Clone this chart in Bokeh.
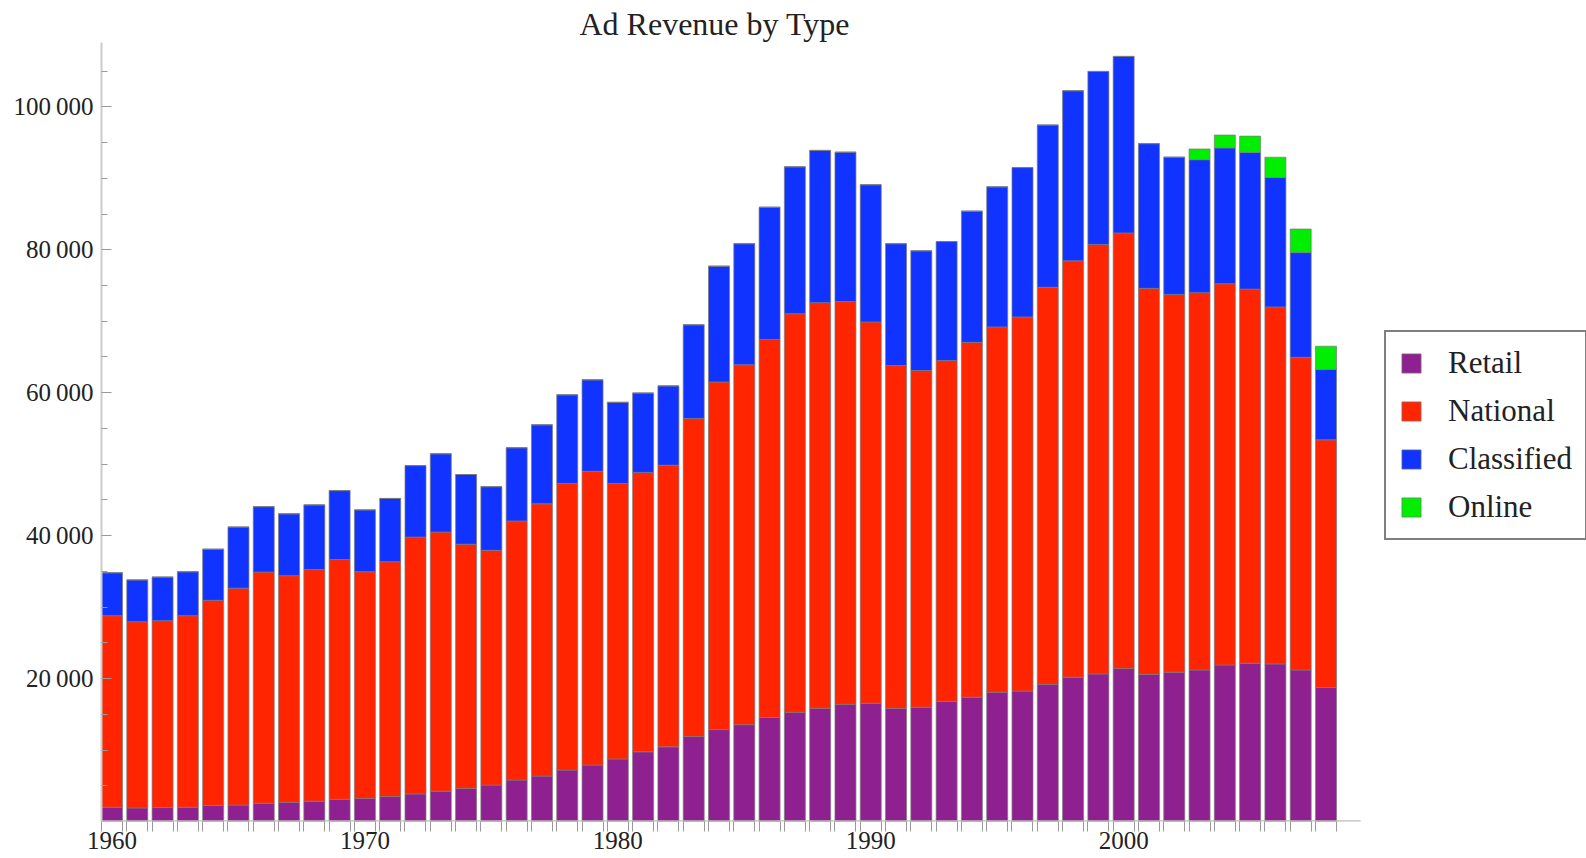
from bokeh.plotting import figure
from bokeh.models import Range1d, FixedTicker, Legend, LegendItem, ColumnDataSource
from bokeh.embed import file_html
from bokeh.resources import INLINE

years = list(range(1960, 2009))
retail = [2000, 1900, 1950, 2000, 2250, 2300, 2550, 2700, 2850, 3100,
          3250, 3500, 3850, 4250, 4650, 5100, 5800, 6350, 7200, 7900,
          8750, 9750, 10450, 11900, 12850, 13550, 14550, 15300, 15850, 16400,
          16550, 15850, 16000, 16800, 17400, 18100, 18250, 19200, 20200, 20650,
          21400, 20600, 20900, 21200, 21900, 22150, 22050, 21200, 18750]
national = [26800, 26050, 26150, 26800, 28700, 30350, 32350, 31700, 32400, 33550,
            31700, 32850, 35950, 36250, 34150, 32850, 36250, 38100, 40100, 41100,
            38550, 39100, 39400, 44500, 48650, 50350, 52900, 55750, 56750, 56350,
            53350, 47950, 47100, 47700, 49650, 51100, 52350, 55550, 58250, 60100,
            60950, 54000, 52850, 52800, 53350, 52350, 49950, 43750, 34650]
classified = [6000, 5850, 6100, 6150, 7150, 8550, 9150, 8650, 9050, 9650,
              8650, 8850, 10000, 10950, 9750, 8900, 10250, 11050, 12400, 12800,
              11350, 11100, 11100, 13100, 16200, 16950, 18500, 20550, 21300, 20900,
              19200, 17050, 16750, 16650, 18350, 19600, 20900, 22700, 23800, 24200,
              24700, 20250, 19200, 18600, 19000, 19100, 18100, 14650, 9850]
online = [0, 0, 0, 0, 0, 0, 0, 0, 0, 0,
          0, 0, 0, 0, 0, 0, 0, 0, 0, 0,
          0, 0, 0, 0, 0, 0, 0, 0, 0, 0,
          0, 0, 0, 0, 0, 0, 0, 0, 0, 0,
          0, 0, 0, 1500, 1800, 2300, 2850, 3300, 3250]

series_keys = ["retail", "national", "classified", "online"]
series_names = ["Retail", "National", "Classified", "Online"]
colors = ["#8f2090", "#ff2500", "#1133ff", "#00ee00"]

x_tick_years = [1960, 1970, 1980, 1990, 2000]
y_tick_values = [20000, 40000, 60000, 80000, 100000]
y_tick_labels = ["20\u2009000", "40\u2009000", "60\u2009000", "80\u2009000", "100\u2009000"]
y_minor_values = [5000, 10000, 15000, 25000, 30000, 35000, 45000, 50000, 55000,
                  65000, 70000, 75000, 85000, 90000, 95000, 105000]

BAR_W = 0.83
FONT = "Liberation Serif"
X_START = 1960 - BAR_W / 2
AXIS_END = 2009.37

source = ColumnDataSource(dict(year=years, retail=retail, national=national,
                               classified=classified, online=online))

p = figure(width=1586, height=858, output_backend="svg", toolbar_location=None,
           x_range=Range1d(X_START, 2018.3), y_range=Range1d(0, 109000),
           min_border_left=101, min_border_right=0, min_border_top=42, min_border_bottom=37)

renderers = p.vbar_stack(series_keys, x="year", width=BAR_W, source=source,
                         fill_color=colors, line_color="#7a7a7a", line_alpha=0.7,
                         line_width=1)

# x-axis baseline that stops just after the last bar (as in the reference)
p.segment(x0=[X_START], y0=[0], x1=[AXIS_END], y1=[0], line_color="#bbbbbb", line_width=2.5)

p.title.text = "Ad Revenue by Type"
p.title.text_font = FONT
p.title.text_font_size = "32px"
p.title.text_font_style = "normal"
p.title.text_color = "#222222"
p.title.align = "left"
p.title.vertical_align = "middle"
p.title.offset = 478
p.title.standoff = 0

p.xgrid.visible = False
p.ygrid.visible = False
p.outline_line_color = None
p.background_fill_color = "white"

edges = []
for yr in years:
    edges.append(yr - BAR_W / 2)
    edges.append(yr + BAR_W / 2)

xa = p.xaxis[0]
xa.ticker = FixedTicker(ticks=x_tick_years, minor_ticks=edges)
xa.major_tick_out = 0
xa.major_tick_in = 0
xa.minor_tick_out = 10
xa.minor_tick_in = 0
xa.minor_tick_line_color = "#999999"
xa.axis_line_color = None
xa.major_label_text_font = FONT
xa.major_label_text_font_size = "25px"
xa.major_label_text_color = "#222222"
xa.major_label_standoff = 0

ya = p.yaxis[0]
ya.ticker = FixedTicker(ticks=y_tick_values, minor_ticks=y_minor_values)
ya.major_label_overrides = {v: t for v, t in zip(y_tick_values, y_tick_labels)}
ya.major_tick_in = 10
ya.major_tick_out = 0
ya.minor_tick_in = 6
ya.minor_tick_out = 0
ya.major_tick_line_color = "#999999"
ya.minor_tick_line_color = "#999999"
ya.axis_line_color = "#cccccc"
ya.axis_line_width = 2
ya.major_label_text_font = FONT
ya.major_label_text_font_size = "25px"
ya.major_label_text_color = "#222222"
ya.major_label_standoff = 8

legend = Legend(items=[LegendItem(label=n, renderers=[r]) for n, r in zip(series_names, renderers)],
                location=(1283, 281))
legend.label_text_font = FONT
legend.label_text_font_size = "31px"
legend.label_text_color = "#222222"
legend.glyph_width = 24
legend.glyph_height = 24
legend.label_standoff = 25
legend.label_height = 36
legend.padding = 13
legend.spacing = 12
legend.margin = 0
legend.border_line_color = "black"
legend.border_line_width = 2
legend.background_fill_color = "white"
p.add_layout(legend)

open("out.html", "w").write(file_html(p, INLINE))
